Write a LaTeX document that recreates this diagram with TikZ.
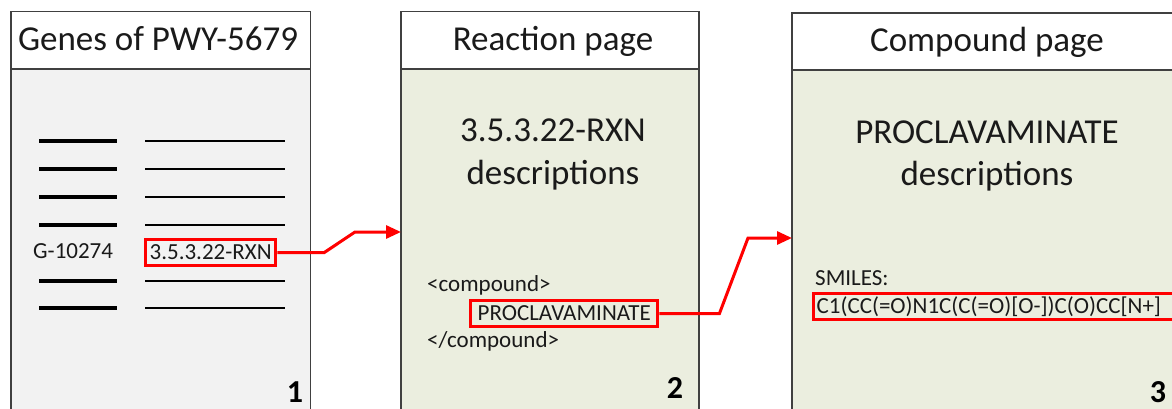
\documentclass[tikz,border=0pt]{standalone}
\usepackage{fontspec}
\setmainfont{Carlito}
\usetikzlibrary{arrows.meta}
\definecolor{panelgray}{HTML}{F2F2F2}
\definecolor{panelgreen}{HTML}{EBEEDF}
\definecolor{framecol}{HTML}{404040}
\definecolor{txt}{HTML}{1A1A1A}
\begin{document}
\begin{tikzpicture}[x=1pt,y=-1pt,
  panelbox/.style={draw=framecol, line width=1.3pt},
  bigtext/.style={font=\fontsize{35}{42}\selectfont, anchor=base, inner sep=0pt, text=txt},
  smalltext/.style={font=\fontsize{23}{28}\selectfont, anchor=base west, inner sep=0pt, text=txt},
  numtext/.style={font=\fontsize{32}{36}\selectfont\bfseries, anchor=base, inner sep=0pt},
  redbox/.style={draw=red, line width=3.3pt, font=\fontsize{23}{28}\selectfont, text=txt,
     anchor=base west, text height=17pt, text depth=4pt, inner ysep=2.5pt},
  redarrow/.style={draw=red, line width=3pt, -{Triangle[length=15pt,width=13pt]}},
  thickbar/.style={line width=4pt},
  thinbar/.style={line width=1.3pt}]
\useasboundingbox (0,0) rectangle (1172,409);
\clip (0,0) rectangle (1172,409);
\fill[white] (0,0) rectangle (1172,409);
% panel 1
\path[panelbox, fill=panelgray] (11,69) rectangle (310.5,430);
\path[panelbox, fill=white] (11,11.5) rectangle (310.5,69);
% panel 2
\path[panelbox, fill=panelgreen] (401,69) rectangle (699,430);
\path[panelbox, fill=white] (401,11.5) rectangle (699,69);
% panel 3
\path[panelbox, fill=panelgreen] (792,70) rectangle (1182,430);
\path[panelbox, fill=white] (792,13) rectangle (1182,70);
% titles
\node[bigtext] (t1) at (158,51) {Genes of PWY-5679};
\node[bigtext] (t2) at (553,51) {Reaction page};
\node[bigtext] (t3) at (987,52) {Compound page};
% panel 1 content
\foreach \yy in {141,169,197,225,281,308} {
  \draw[thickbar] (39,\yy) -- (117,\yy);
  \draw[thinbar] (145,\yy) -- (285,\yy);
}
\node[smalltext] (gene) at (33,258) {G-10274};
\node[redbox, inner xsep=4pt] (rxn) at (144,259) {3.5.3.22-RXN};
\node[numtext] (n1) at (295,402) {1};
% panel 2 content
\node[bigtext] (r1) at (553,142) {3.5.3.22-RXN};
\node[bigtext] (r2) at (553,184) {descriptions};
\node[smalltext] (c1) at (427,291) {<compound>};
\node[redbox, inner xsep=7pt] (proc) at (469,320) {PROCLAVAMINATE};
\node[smalltext] (c2) at (427,347) {</compound>};
\node[numtext] (n2) at (675,398) {2};
% panel 3 content
\node[bigtext] (p1) at (987,143) {PROCLAVAMINATE};
\node[bigtext] (p2) at (987,185) {descriptions};
\node[smalltext] (sm) at (815,285) {SMILES:};
\node[redbox, inner xsep=3pt, text width=372pt, align=left] (smiles) at (812,313) {C1(CC(=O)N1C(C(=O)[O-])C(O)CC[N+]};
\node[numtext] (n3) at (1158,402) {3};
% connectors
\coordinate (in2) at (401,232);
\coordinate (in3) at (792,238);
\draw[redarrow] (rxn.east) -- ++(47,0) -- (355,232) -- (in2);
\draw[redarrow] (proc.east) -- ++(60,0) -- (748,238) -- (in3);
\end{tikzpicture}
\end{document}
